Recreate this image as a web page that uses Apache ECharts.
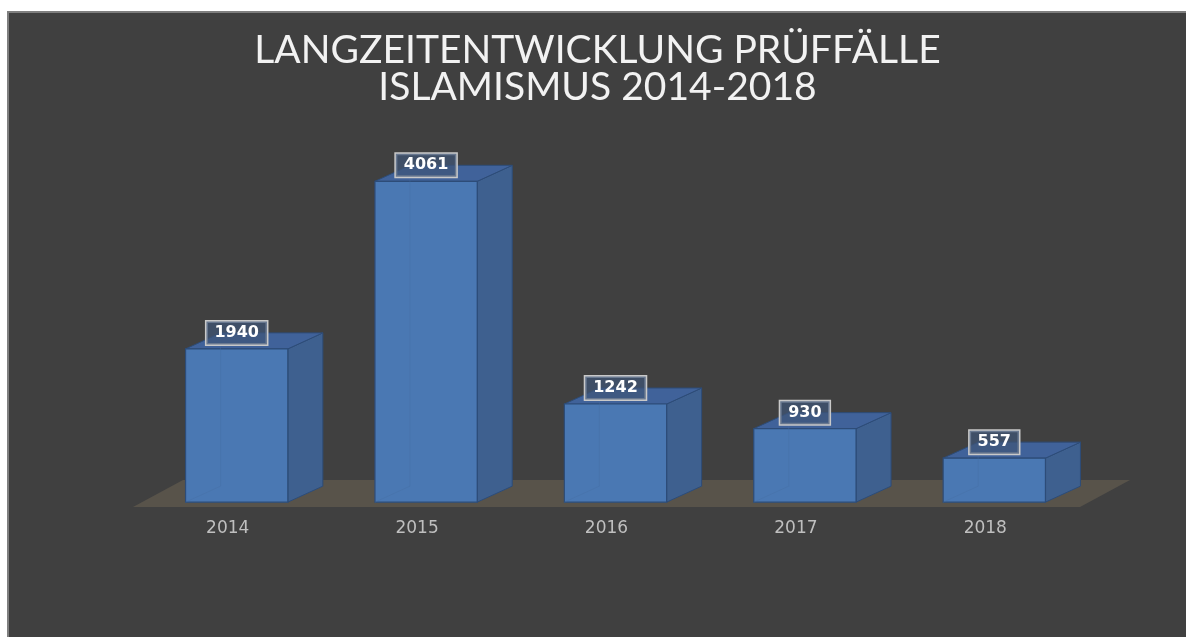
<!DOCTYPE html>
<html>
<head>
<meta charset="utf-8">
<script src="https://cdn.jsdelivr.net/npm/echarts@6/dist/echarts.min.js"></script>
<style>
  html, body { margin: 0; padding: 0; background: #ffffff; }
  #chart {
    position: absolute; left: 7px; top: 11px;
    width: 1179px; height: 626px;
    box-sizing: border-box;
    background: #404040;
    border-left: 2px solid #7f7f7f;
    border-top: 2px solid #7f7f7f;
  }
</style>
</head>
<body>
<div id="chart"></div>
<script>
// data
const years = ['2014', '2015', '2016', '2017', '2018']
const cases = [1940, 4061, 1242, 930, 557]
const titleLines = ['LANGZEITENTWICKLUNG PRÜFFÄLLE', 'ISLAMISMUS 2014-2018']

// 3D look: floor depth and bar depth in pixels
const FLOOR_DX = 50, FLOOR_DY = -27
const BAR_SHIFT = 0.18     // bar front face sits this far into the floor depth
const BAR_DX = 35, BAR_DY = -16

const chart = echarts.init(document.getElementById('chart'))

function renderFloor(params) {
  const cs = params.coordSys
  const yb = cs.y + cs.height
  return {
    type: 'polygon',
    shape: {
      points: [
        [cs.x, yb],
        [cs.x + cs.width, yb],
        [cs.x + cs.width + FLOOR_DX, yb + FLOOR_DY],
        [cs.x + FLOOR_DX, yb + FLOOR_DY],
      ],
    },
    style: { fill: '#58534a' },
    silent: true,
  }
}

function renderBar(params, api) {
  const idx = api.value(0)
  const val = api.value(1)
  const base = api.coord([idx, 0])
  const top = api.coord([idx, val])
  const catW = api.size([1, 0])[0]
  const w = catW * 0.54
  const ox = FLOOR_DX * BAR_SHIFT, oy = FLOOR_DY * BAR_SHIFT
  const cx = base[0] + ox
  const x0 = cx - w / 2, x1 = cx + w / 2
  const yb = base[1] + oy, yt = top[1] + oy
  const edge = '#2d4c78'
  return {
    type: 'group',
    children: [
      { // side face
        type: 'polygon',
        shape: { points: [[x1, yb], [x1 + BAR_DX, yb + BAR_DY], [x1 + BAR_DX, yt + BAR_DY], [x1, yt]] },
        style: { fill: '#3e608f', stroke: edge, lineWidth: 1 },
      },
      { // top face
        type: 'polygon',
        shape: { points: [[x0, yt], [x1, yt], [x1 + BAR_DX, yt + BAR_DY], [x0 + BAR_DX, yt + BAR_DY]] },
        style: { fill: '#40629a', stroke: edge, lineWidth: 1 },
      },
      { // front face
        type: 'rect',
        shape: { x: x0, y: yt, width: w, height: yb - yt },
        style: { fill: '#4a78b3', stroke: edge, lineWidth: 1.2 },
      },
      { // hidden edges showing through
        type: 'polyline',
        shape: { points: [[x0, yb], [x0 + BAR_DX, yb + BAR_DY], [x0 + BAR_DX, yt + BAR_DY]] },
        style: { stroke: 'rgba(70,110,160,0.35)', lineWidth: 1, fill: null },
      },
      { // value label
        type: 'text',
        x: cx,
        y: yt + BAR_DY,
        style: {
          text: String(val),
          fill: '#ffffff',
          font: 'bold 16px "DejaVu Sans"',
          align: 'center',
          verticalAlign: 'middle',
          backgroundColor: 'rgba(62,86,120,0.7)',
          borderColor: '#c9c9c9',
          borderWidth: 1.5,
          padding: [4, 8, 3, 8],
        },
      },
    ],
  }
}

chart.setOption({
  backgroundColor: '#404040',
  animation: false,
  title: {
    text: titleLines.join('\n'),
    left: 'center',
    top: 14,
    textStyle: {
      color: '#f2f2f2',
      fontSize: 39,
      fontWeight: 'normal',
      fontFamily: 'Lato',
      lineHeight: 37,
    },
  },
  grid: { left: 124, right: 106, top: 99, bottom: 130 },
  xAxis: {
    type: 'category',
    data: years,
    axisLine: { show: false },
    axisTick: { show: false },
    axisLabel: { color: '#bfbfbf', fontSize: 17, fontFamily: 'DejaVu Sans', margin: 13 },
  },
  yAxis: {
    type: 'value',
    min: 0,
    max: 5000,
    show: false,
    splitLine: { show: false },
  },
  series: [
    {
      type: 'custom',
      z: 1,
      renderItem: renderFloor,
      data: [[0, 0]],
      silent: true,
    },
    {
      type: 'custom',
      z: 2,
      renderItem: renderBar,
      encode: { x: 0, y: 1 },
      data: cases.map((v, i) => [i, v]),
    },
  ],
})
</script>
</body>
</html>
